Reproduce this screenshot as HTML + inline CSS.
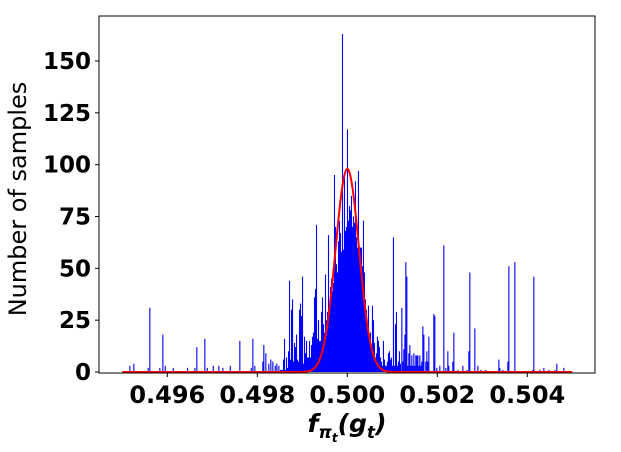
<!DOCTYPE html>
<html><head><meta charset="utf-8"><style>
body{margin:0;background:#fff;}
svg{display:block;font-family:"DejaVu Sans","Liberation Sans",sans-serif;}
</style></head><body>
<svg id="chart" width="621" height="452" viewBox="0 0 621 452" xmlns="http://www.w3.org/2000/svg">
<rect x="0" y="0" width="621" height="452" fill="#fff"/>
<g id="bars"></g>
<path id="fit" fill="none" stroke="#ff0000" stroke-width="2"/>
<rect x="99" y="16" width="496" height="357" fill="none" stroke="#000" stroke-width="1"/>
<g id="xticks"></g>
<g id="yticks"></g>
<text transform="translate(26,199) rotate(-90)" text-anchor="middle" font-size="24">Number of samples</text>
<text x="347" y="432" text-anchor="middle" font-size="25" font-weight="bold" font-style="italic">f<tspan font-size="17" dy="6">π</tspan><tspan font-size="12" dy="4">t</tspan><tspan dy="-10">(g</tspan><tspan font-size="17" dy="6">t</tspan><tspan dy="-6">)</tspan></text>
</svg>
<script>
const xTicks = [0.496, 0.498, 0.500, 0.502, 0.504];
const xTickLabels = ["0.496", "0.498", "0.500", "0.502", "0.504"];
const yTicks = [0, 25, 50, 75, 100, 125, 150];
const binWidth = 0.0000222;
const coreStart = 0.4985044;
const coreCounts = [1,1,1,6,16,1,7,2,10,44,
6,30,35,5,14,12,18,6,5,30,
33,27,46,4,17,9,15,7,7,15,
7,13,17,19,36,40,71,16,25,15,
15,29,36,23,19,47,25,29,66,28,
41,45,39,43,95,70,52,48,63,73,
67,58,163,59,95,68,70,117,73,80,
78,85,70,75,72,92,65,60,97,55,
60,60,51,73,48,35,30,23,32,17,
19,12,32,25,14,7,9,17,15,12,
7,5,3,15,6,3,3,5,9,10,
6,7,3,65,3,23,29,3,5,10,4];
const tailBins = [0.495156,0.495244,0.495564,0.4956,0.495822,0.495889,0.495942,0.49612,0.496438,0.4966,0.496644,0.496822,0.496876,0.497009,0.497133,0.497222,0.497387,0.4976,0.497853,0.497889,0.497933,0.498111,0.498133,0.498178,0.498244,0.498289,0.498333,0.498387,0.498422,0.498467,
0.5012,0.501222,0.501244,0.501267,0.501289,0.501311,0.501333,0.501356,0.501378,0.5014,0.501422,0.501444,0.501467,0.501489,0.501511,0.501533,0.501556,0.501578,0.5016,0.501622,0.501644,0.501667,0.501689,0.501733,0.501756,0.501778,0.5018,0.501911,0.501933,0.501978,0.502044,0.502133,0.502178,0.502222,0.502244,0.502333,0.502356,0.502444,0.502556,0.502644,0.502689,0.502711,0.502822,0.502889,0.502956,0.503067,0.503356,0.503378,0.503444,0.503556,0.503578,0.503711,0.504111,0.504133,0.504267,0.504356,0.504467,0.5046,0.504644,0.5048];
const tailCounts = [3,4,2,31,2,18,3,2,2,2,12,16,2,3,3,2,3,15,2,16,3,5,13,9,4,6,5,3,4,3,
31,5,11,18,53,46,3,9,13,3,8,3,9,3,8,8,8,3,8,3,5,22,18,5,10,5,17,28,27,2,3,61,2,10,3,5,19,1,3,1,10,48,21,3,1,1,6,2,1,5,51,53,1,46,1,2,1,1,4,2];
const fitMean = 0.5, fitSigma = 0.00026, fitPeak = 98, fitMin = 0.495, fitMax = 0.505;

const NS = "http://www.w3.org/2000/svg";
const X0 = 99, X1 = 595, Y0 = 372, Y1 = 61;
const xScale = v => 347.3 + (v - 0.5) * 45000;
const yScale = c => Y0 - c * (Y0 - Y1) / 150;

const barsG = document.getElementById('bars');
function addBar(v, c) {
  const x = xScale(v);
  const r = document.createElementNS(NS, 'rect');
  
  
  r.setAttribute('x', x.toFixed(2));
  r.setAttribute('width', (binWidth * 45000 + 0.1).toFixed(2));
  r.setAttribute('y', yScale(c).toFixed(2));
  r.setAttribute('height', (Y0 - yScale(c)).toFixed(2));
  r.setAttribute('fill', '#0000ff');
  barsG.appendChild(r);
}
coreCounts.forEach((c, i) => addBar(coreStart + i * binWidth, c));
tailBins.forEach((v, i) => addBar(v, tailCounts[i]));

let d = '';
for (let i = 0; i <= 400; i++) {
  const v = fitMin + (fitMax - fitMin) * i / 400;
  const c = fitPeak * Math.exp(-0.5 * Math.pow((v - fitMean) / fitSigma, 2));
  d += (i ? 'L' : 'M') + xScale(v).toFixed(2) + ' ' + yScale(c).toFixed(2);
}
document.getElementById('fit').setAttribute('d', d);

const xg = document.getElementById('xticks');
xTicks.forEach((v, i) => {
  const x = xScale(v);
  const l = document.createElementNS(NS, 'line');
  
  
  l.setAttribute('x1', x); l.setAttribute('x2', x);
  l.setAttribute('y1', 373); l.setAttribute('y2', 377);
  l.setAttribute('stroke', '#000');
  xg.appendChild(l);
  const t = document.createElementNS(NS, 'text');
  
  
  t.setAttribute('x', x); t.setAttribute('y', 403);
  t.setAttribute('text-anchor', 'middle');
  t.setAttribute('font-size', '24');
  t.setAttribute('font-weight', 'bold');
  t.textContent = xTickLabels[i];
  xg.appendChild(t);
});
const yg = document.getElementById('yticks');
yTicks.forEach(c => {
  const y = yScale(c);
  const l = document.createElementNS(NS, 'line');
  
  
  l.setAttribute('x1', 95); l.setAttribute('x2', 99);
  l.setAttribute('y1', y); l.setAttribute('y2', y);
  l.setAttribute('stroke', '#000');
  yg.appendChild(l);
  const t = document.createElementNS(NS, 'text');
  
  
  t.setAttribute('x', 91); t.setAttribute('y', y + 8);
  t.setAttribute('text-anchor', 'end');
  t.setAttribute('font-size', '23');
  t.setAttribute('font-weight', 'bold');
  t.textContent = String(c);
  yg.appendChild(t);
});
</script>
</body></html>
